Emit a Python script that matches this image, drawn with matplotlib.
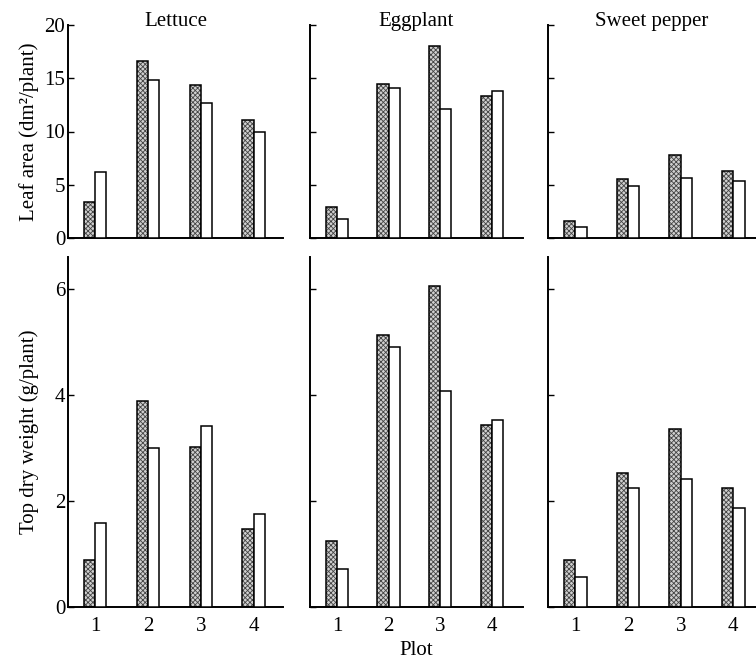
import matplotlib

matplotlib.use("Agg")
import matplotlib.pyplot as plt
import numpy as np

plt.rcParams["font.family"] = ["Liberation Serif", "DejaVu Serif"]
plt.rcParams["hatch.linewidth"] = 0.6
plt.rcParams["hatch.color"] = "#444444"

plots = [1, 2, 3, 4]
crops = ["Lettuce", "Eggplant", "Sweet pepper"]

# leaf area (dm2/plant): hatched bar, open bar
leaf_hatched = {
    "Lettuce": [3.4, 16.6, 14.4, 11.1],
    "Eggplant": [2.95, 14.45, 18.0, 13.3],
    "Sweet pepper": [1.55, 5.5, 7.8, 6.3],
}
leaf_open = {
    "Lettuce": [6.2, 14.8, 12.7, 10.0],
    "Eggplant": [1.8, 14.1, 12.1, 13.8],
    "Sweet pepper": [1.05, 4.9, 5.6, 5.35],
}
# top dry weight (g/plant)
dry_hatched = {
    "Lettuce": [0.89, 3.89, 3.02, 1.47],
    "Eggplant": [1.25, 5.12, 6.05, 3.43],
    "Sweet pepper": [0.88, 2.53, 3.35, 2.24],
}
dry_open = {
    "Lettuce": [1.59, 3.0, 3.42, 1.75],
    "Eggplant": [0.72, 4.9, 4.08, 3.52],
    "Sweet pepper": [0.56, 2.25, 2.42, 1.86],
}

W, H = 756, 661
FS = 15
BW = 0.215

fig = plt.figure(figsize=(W / 100, H / 100), dpi=100)

# pixel boxes: (left, right) for columns, (top, bottom) for rows
cols = [(68, 283, (0.49, 4.55)), (310, 523, (0.48, 4.60)), (548, 756, (0.48, 4.43))]
rows = [(25, 238, (0, 20), [0, 5, 10, 15, 20], leaf_hatched, leaf_open,
         "Leaf area (dm\u00b2/plant)"),
        (257, 607, (0, 6.6), [0, 2, 4, 6], dry_hatched, dry_open,
         "Top dry weight (g/plant)")]


def draw_bars(ax, x, h, hatched):
    if hatched:
        ax.bar(x, h, BW, facecolor="#d0d0d0", edgecolor="#444444", hatch="xxxxxxx",
               linewidth=0, zorder=2)
    ax.bar(x, h, BW, fill=not hatched, facecolor="white", edgecolor="black",
           linewidth=1.1, zorder=3)


x = np.array(plots, dtype=float)
for r, (top, bot, ylim, yticks, hd, od, ylab) in enumerate(rows):
    for c, (left, right, xlim) in enumerate(cols):
        ax = fig.add_axes([left / W, (H - bot) / H, (right - left) / W, (bot - top) / H])
        crop = crops[c]
        draw_bars(ax, x - BW / 2, hd[crop], True)
        draw_bars(ax, x + BW / 2, od[crop], False)
        ax.set_xlim(*xlim)
        ax.set_ylim(*ylim)
        ax.set_yticks(yticks)
        for s in ("top", "right"):
            ax.spines[s].set_visible(False)
        for s in ("left", "bottom"):
            ax.spines[s].set_linewidth(1.4)
        ax.tick_params(axis="y", direction="in", length=4, width=1.0, pad=2,
                       labelsize=FS, labelleft=(c == 0))
        ax.set_xticks(plots)
        ax.tick_params(axis="x", length=0, pad=7, labelsize=FS, labelbottom=(r == 1))
        if r == 0:
            ax.set_title(crop, fontsize=FS, y=1.0, pad=-1)
        if c == 0:
            ax.set_ylabel(ylab, fontsize=FS)
            ax.yaxis.set_label_coords(-0.135, 0.5)
        if r == 1 and c == 1:
            ax.set_xlabel("Plot", fontsize=FS, labelpad=4)

fig.savefig("out.png", dpi=100, facecolor="white")
